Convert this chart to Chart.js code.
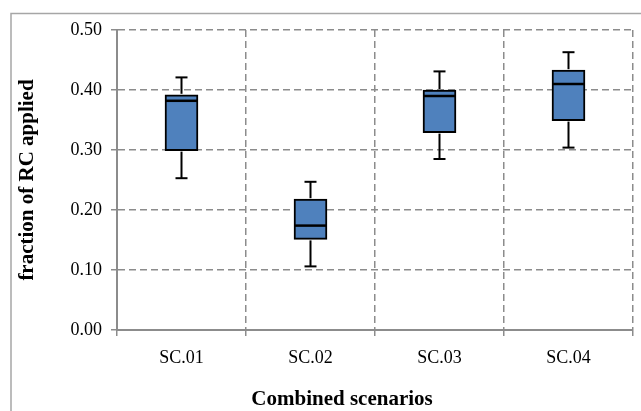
<!DOCTYPE html>
<html>
<head>
<meta charset="utf-8">
<script src="https://cdn.jsdelivr.net/npm/chart.js@4/dist/chart.umd.min.js"></script>
<style>
  html, body { margin: 0; padding: 0; background: #fff; }
  #wrap { width: 641px; height: 411px; }
</style>
</head>
<body>
<div id="wrap"><canvas id="box"></canvas></div>
<script>
// box plot values
const categories = ['SC.01', 'SC.02', 'SC.03', 'SC.04'];
const whiskerMin = [0.253, 0.106, 0.285, 0.304];
const boxQ1      = [0.299, 0.151, 0.329, 0.349];
const median     = [0.382, 0.174, 0.390, 0.410];
const boxQ3      = [0.392, 0.218, 0.400, 0.433];
const whiskerMax = [0.421, 0.247, 0.431, 0.463];
const yTicks     = [0, 0.1, 0.2, 0.3, 0.4, 0.5];

const GRID = '#8c8c8c';
const SERIF = "'Liberation Serif', 'Times New Roman', serif";

// white page + outer frame
const framePlugin = {
  id: 'frame',
  beforeDraw(chart){
    const ctx = chart.ctx;
    ctx.save();
    ctx.fillStyle = '#fff';
    ctx.fillRect(0, 0, chart.width, chart.height);
    ctx.strokeStyle = '#a6a6a6';
    ctx.lineWidth = 1.5;
    ctx.strokeRect(11, 13.5, chart.width + 20, chart.height + 20);
    ctx.restore();
  }
};

// whiskers, caps and median drawn through the scales
const whiskerPlugin = {
  id: 'whiskers',
  afterDatasetsDraw(chart){
    const { ctx, scales: { x, y } } = chart;
    const meta = chart.getDatasetMeta(0);
    ctx.save();
    ctx.strokeStyle = '#000';
    const seg = (x1, y1, x2, y2) => { ctx.beginPath(); ctx.moveTo(x1, y1); ctx.lineTo(x2, y2); ctx.stroke(); };
    categories.forEach((c, i) => {
      const cx = x.getPixelForValue(i);
      const half = meta.data[i].width / 2;
      const yMax = y.getPixelForValue(whiskerMax[i]);
      const yMin = y.getPixelForValue(whiskerMin[i]);
      ctx.lineWidth = 2;
      seg(cx, y.getPixelForValue(boxQ3[i]) - 1, cx, yMax);
      seg(cx, y.getPixelForValue(boxQ1[i]) + 1, cx, yMin);
      seg(cx - 6, yMax, cx + 6, yMax);
      seg(cx - 6, yMin, cx + 6, yMin);
      ctx.lineWidth = 2.5;
      const ym = y.getPixelForValue(median[i]);
      seg(cx - half + 1, ym, cx + half - 1, ym);
    });
    ctx.restore();
  }
};

// x axis title, centred like the original (not on the plot area)
const xTitlePlugin = {
  id: 'xTitle',
  afterDraw(chart){
    const ctx = chart.ctx;
    ctx.save();
    ctx.font = 'bold 21px ' + SERIF;
    ctx.fillStyle = '#000';
    ctx.textAlign = 'center';
    ctx.textBaseline = 'alphabetic';
    ctx.fillText('Combined scenarios', 342, 405);
    ctx.restore();
  }
};

new Chart(document.getElementById('box'), {
  type: 'bar',
  data: {
    labels: categories,
    datasets: [{
      data: categories.map((c, i) => [boxQ1[i], boxQ3[i]]),
      backgroundColor: '#4f81bd',
      borderColor: '#000',
      borderWidth: 2,
      borderSkipped: false,
      barThickness: 33
    }]
  },
  options: {
    responsive: true,
    maintainAspectRatio: false,
    animation: false,
    layout: { padding: { top: 30, right: 8, bottom: 0, left: 0 } },
    plugins: { legend: { display: false }, tooltip: { enabled: false } },
    scales: {
      x: {
        grid: { color: GRID, lineWidth: 1.5, tickLength: 6, tickColor: GRID, tickWidth: 1.5, offset: true },
        border: { color: GRID, width: 2, dash: [7, 4] },
        ticks: { color: '#000', padding: 11, font: { family: SERIF, size: 18 } },
        afterFit(scale){ scale.height = 81; }
      },
      y: {
        min: 0,
        max: 0.5,
        afterBuildTicks(scale){ scale.ticks = yTicks.map(v => ({ value: v })); },
        grid: { color: GRID, lineWidth: 1.5, tickLength: 6, tickColor: GRID, tickWidth: 1.5 },
        border: { color: GRID, width: 2, dash: [7, 4] },
        ticks: {
          color: '#000', padding: 9,
          font: { family: SERIF, size: 18 },
          callback: v => Number(v).toFixed(2)
        },
        title: {
          display: true,
          text: 'fraction of RC applied',
          color: '#000',
          font: { family: SERIF, size: 21, weight: 'bold' },
          padding: { top: 15, bottom: 0 }
        },
        afterFit(scale){ scale.width = 117; }
      }
    }
  },
  plugins: [framePlugin, whiskerPlugin, xTitlePlugin]
});
</script>
</body>
</html>
